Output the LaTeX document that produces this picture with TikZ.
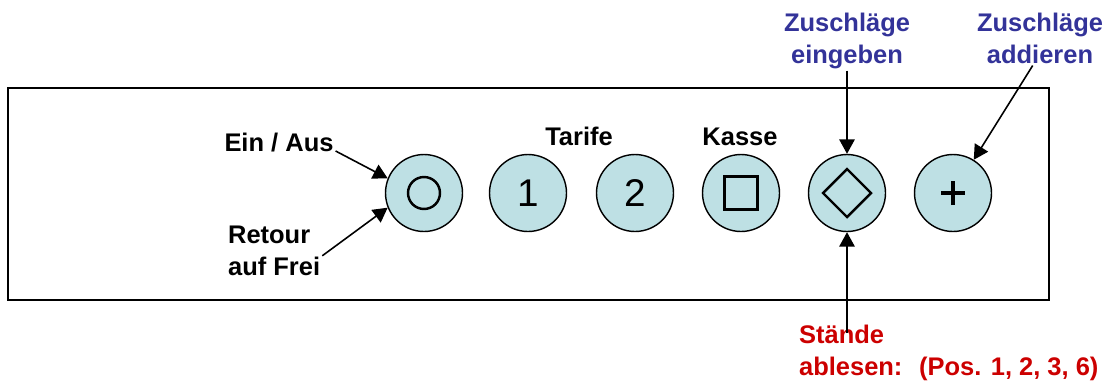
\documentclass[tikz,border=0pt]{standalone}
\usepackage{fontspec}
\setmainfont{Liberation Sans}
\usetikzlibrary{arrows.meta}
\definecolor{keyfill}{RGB}{190,224,228}
\definecolor{zblue}{RGB}{51,51,153}
\definecolor{sred}{RGB}{204,0,0}
\tikzset{
    key/.style={circle, draw, line width=0.8pt, fill=keyfill, minimum size=1.54cm, inner sep=0mm, font=\fontsize{22}{24}\selectfont},
    lbl/.style={inner sep=1pt, font=\fontsize{14.5}{18}\selectfont\bfseries, align=left},
    pfeil/.style={line width=0.9pt, -{Triangle[length=0.29cm, width=0.31cm]}},
    sym/.style={line width=1.4pt}
}
\begin{document}
\begin{tikzpicture}[x=0.02cm, y=-0.02cm]
        \useasboundingbox (0,0) rectangle (1115,383);
        \draw [line width=1.2pt] (8,88) rectangle (1049,300);
        \node (k0) [key] at (424,193) {};
        \node (k1) [key] at (528,193) {1};
        \node (k2) [key] at (635,193) {2};
        \node (k3) [key] at (741,193) {};
        \node (k4) [key] at (847,193) {};
        \node (k5) [key] at (953,193) {};
        \draw [sym] (k0.center) circle (0.32cm);
        \draw [sym] ([shift={(-0.33cm,-0.33cm)}]k3.center) rectangle ([shift={(0.33cm,0.33cm)}]k3.center);
        \draw [sym] ([xshift=-0.48cm]k4.center) -- ([yshift=0.48cm]k4.center) -- ([xshift=0.48cm]k4.center) -- ([yshift=-0.48cm]k4.center) -- cycle;
        \draw [line width=2.2pt] ([xshift=-0.24cm]k5.center) -- ([xshift=0.24cm]k5.center);
        \draw [line width=2.2pt] ([yshift=-0.24cm]k5.center) -- ([yshift=0.24cm]k5.center);
        \node (ein) [lbl, anchor=base] at (279,151) {Ein / Aus};
        \node (retour) [lbl, anchor=north west] at (226,224) {Retour\\auf Frei};
        \node (tarife) [lbl, anchor=base] at (579,145) {Tarife};
        \node (kasse) [lbl, anchor=base] at (740,145) {Kasse};
        \node (eingeben) [lbl, zblue, align=center, anchor=north] at (847,11) {Zuschläge\\eingeben};
        \node (addieren) [lbl, zblue, align=center, anchor=north] at (1040,11) {Zuschläge\\addieren};
        \node (staende) [lbl, sred, anchor=north west] at (797,323) {Stände\\ablesen:};
        \node (pos) [lbl, sred, anchor=base west] at (917,375) {(Pos. 1, 2, 3, 6)};
        \draw [pfeil] (ein.base east) -- (k0.158);
        \draw [pfeil] ([yshift=-0.1cm]retour.east) -- (k0.202);
        \draw [pfeil] (eingeben.south) -- (k4.north);
        \draw [pfeil] (addieren.-105) -- (k5.58);
        \draw [pfeil] ([yshift=-0.2cm]k4.south |- staende.north) -- (k4.south);
\end{tikzpicture}
\end{document}
